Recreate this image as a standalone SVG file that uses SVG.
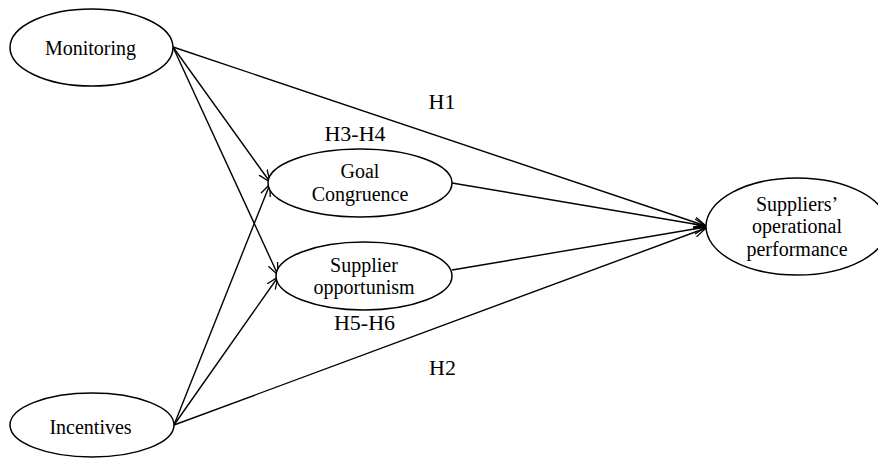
<svg xmlns="http://www.w3.org/2000/svg" width="878" height="459" viewBox="0 0 878 459">
<defs>
<marker id="arr" viewBox="0 0 12 12" refX="12" refY="6" markerWidth="12" markerHeight="12" markerUnits="userSpaceOnUse" orient="auto">
<path d="M0,1 L12,6 L0,11" fill="none" stroke="#000" stroke-width="1.3"/>
</marker>
<style>
.n{fill:#fff;stroke:#000;stroke-width:1.5}
.t{font-family:"Liberation Serif","Times New Roman",serif;font-size:20px;fill:#000;text-anchor:middle}
.l{font-family:"Liberation Serif","Times New Roman",serif;font-size:22px;fill:#000;text-anchor:middle}
.c{stroke:#000;stroke-width:1.4;fill:none;marker-end:url(#arr)}
</style>
</defs>
<rect width="878" height="459" fill="#fff"/>
<g id="connectors">
<line class="c" x1="173" y1="47" x2="706" y2="226"/>
<line class="c" x1="173" y1="47" x2="270" y2="182"/>
<line class="c" x1="173" y1="47" x2="278" y2="275"/>
<line class="c" x1="174" y1="425" x2="270" y2="184"/>
<line class="c" x1="174" y1="425" x2="278" y2="277"/>
<line class="c" x1="174" y1="425" x2="706" y2="228"/>
<line class="c" x1="452" y1="183" x2="706" y2="226"/>
<line class="c" x1="452" y1="270" x2="706" y2="227"/>
</g>
<g id="monitoring">
<ellipse class="n" cx="91.5" cy="47.5" rx="81.5" ry="38.5"/>
<text class="t" x="90.5" y="55">Monitoring</text>
</g>
<g id="incentives">
<ellipse class="n" cx="92" cy="425" rx="82" ry="32"/>
<text class="t" x="90.5" y="434">Incentives</text>
</g>
<g id="goal">
<ellipse class="n" cx="360" cy="183" rx="92" ry="34"/>
<text class="t" x="360" y="178">Goal</text>
<text class="t" x="360" y="201">Congruence</text>
</g>
<g id="opportunism">
<ellipse class="n" cx="364" cy="276" rx="88" ry="34"/>
<text class="t" x="364" y="272">Supplier</text>
<text class="t" x="364" y="294">opportunism</text>
</g>
<g id="performance">
<ellipse class="n" cx="797" cy="226.5" rx="91" ry="48.5"/>
<text class="t" x="797" y="211">Suppliers’</text>
<text class="t" x="797" y="233">operational</text>
<text class="t" x="797" y="256">performance</text>
</g>
<g id="labels">
<text class="l" x="442" y="109">H1</text>
<text class="l" x="355" y="141">H3-H4</text>
<text class="l" x="364.5" y="330">H5-H6</text>
<text class="l" x="442.5" y="375">H2</text>
</g>
</svg>
